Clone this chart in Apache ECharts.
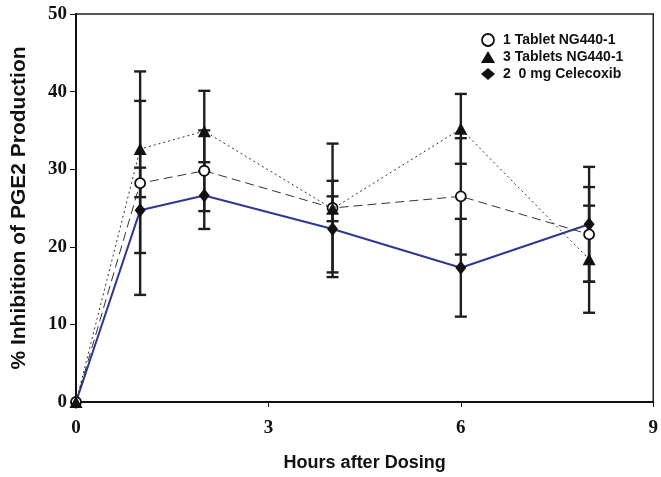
<!DOCTYPE html>
<html>
<head>
<meta charset="utf-8">
<script src="https://cdn.jsdelivr.net/npm/echarts@6/dist/echarts.min.js"></script>
<style>html,body{margin:0;padding:0;background:#fff}#c{width:661px;height:477px}</style>
</head>
<body>
<div id="c"></div>
<script>
var hours = [0, 1, 2, 4, 6, 8];
var seriesNames = ['1 Tablet NG440-1', '3 Tablets NG440-1', '2  0 mg Celecoxib'];
var oneTablet = [0, 28.2, 29.8, 25.0, 26.5, 21.6];
var oneTabletSD = [0, 14.4, 5.2, 8.3, 7.5, 6.1];
var threeTablets = [0, 32.6, 34.9, 24.9, 35.2, 18.4];
var threeTabletsSD = [0, 6.2, 5.2, 1.6, 4.5, 6.9];
var celecoxib = [0, 24.7, 26.6, 22.3, 17.3, 22.9];
var celecoxibSD = [0, 5.5, 4.3, 6.2, 6.3, 7.4];
var xTicks = [0, 3, 6, 9];
var yTicks = [0, 10, 20, 30, 40, 50];

function pairs(v) { return hours.map(function (h, i) { return [h, v[i]]; }); }
function errs(v, s) { return hours.map(function (h, i) { return [h, v[i], s[i]]; }); }

var chart = echarts.init(document.getElementById('c'));
var blue = '#2e3894';
var serif = '"Liberation Serif", "Times New Roman", serif';
var narrow = '"Liberation Sans Narrow", "Arial Narrow", "Liberation Sans", sans-serif';

function errRender(params, api) {
  var x = api.value(0), m = api.value(1), s = api.value(2);
  if (!s) return;
  var top = api.coord([x, m + s]);
  var bot = api.coord([x, m - s]);
  var st = { stroke: '#1f1f1f', lineWidth: 2.4 };
  var w = 6;
  return {
    type: 'group',
    children: [
      { type: 'line', shape: { x1: top[0], y1: top[1], x2: bot[0], y2: bot[1] }, style: st },
      { type: 'line', shape: { x1: top[0] - w, y1: top[1], x2: top[0] + w, y2: top[1] }, style: st },
      { type: 'line', shape: { x1: bot[0] - w, y1: bot[1], x2: bot[0] + w, y2: bot[1] }, style: st }
    ]
  };
}

chart.setOption({
  animation: false,
  grid: { left: 76, right: 2, top: 14, bottom: 68, show: true, borderColor: '#222', borderWidth: 1.5, backgroundColor: 'transparent' },
  legend: {
    orient: 'vertical', left: 476, top: 28, itemGap: 3, itemWidth: 14, itemHeight: 12,
    textStyle: { fontFamily: '"Liberation Sans", Arial, sans-serif', fontWeight: 'bold', fontSize: 14, color: '#111', padding: [0, 0, 0, 3] },
    data: [
      { name: seriesNames[0], icon: 'circle', itemStyle: { color: '#fff', borderColor: '#111', borderWidth: 1.8 } },
      { name: seriesNames[1], icon: 'triangle', itemStyle: { color: '#111' } },
      { name: seriesNames[2], icon: 'diamond', itemStyle: { color: '#111' } }
    ]
  },
  xAxis: {
    type: 'value', min: 0, max: 9, interval: 3,
    name: 'Hours after Dosing', nameLocation: 'middle', nameGap: 52,
    nameTextStyle: { fontFamily: narrow, fontWeight: 'bold', fontSize: 18, color: '#111' },
    axisLine: { show: true, lineStyle: { color: '#111', width: 2 } },
    axisTick: { show: true, length: 5, lineStyle: { color: '#111', width: 1 } },
    axisLabel: { fontFamily: serif, fontWeight: 'bold', fontSize: 19, color: '#111', margin: 17,
      formatter: function (v) { return xTicks.indexOf(v) >= 0 ? String(v) : ''; } },
    splitLine: { show: false }
  },
  yAxis: {
    type: 'value', min: 0, max: 50, interval: 10,
    name: '% Inhibition of PGE2 Production', nameLocation: 'middle', nameGap: 46,
    nameTextStyle: { fontFamily: narrow, fontWeight: 'bold', fontSize: 21, color: '#111' },
    axisLine: { show: true, lineStyle: { color: '#111', width: 2 } },
    axisTick: { show: true, length: 6, lineStyle: { color: '#111', width: 1 } },
    axisLabel: { fontFamily: serif, fontWeight: 'bold', fontSize: 19, color: '#111', margin: 9,
      formatter: function (v) { return yTicks.indexOf(v) >= 0 ? String(v) : ''; } },
    splitLine: { show: false }
  },
  series: [
    { type: 'custom', name: 'err1', renderItem: errRender, data: errs(oneTablet, oneTabletSD), z: 3, encode: { x: 0, y: 1 } },
    { type: 'custom', name: 'err3', renderItem: errRender, data: errs(threeTablets, threeTabletsSD), z: 3, encode: { x: 0, y: 1 } },
    { type: 'custom', name: 'errC', renderItem: errRender, data: errs(celecoxib, celecoxibSD), z: 3, encode: { x: 0, y: 1 } },
    { type: 'line', name: seriesNames[2], data: pairs(celecoxib), z: 4,
      lineStyle: { color: blue, width: 2 }, symbol: 'diamond', symbolSize: [11, 14],
      itemStyle: { color: '#111' } },
    { type: 'line', name: seriesNames[0], data: pairs(oneTablet), z: 5,
      lineStyle: { color: '#333', width: 1, type: [9, 5] }, symbol: 'circle', symbolSize: 10,
      itemStyle: { color: '#fff', borderColor: '#111', borderWidth: 1.8 } },
    { type: 'line', name: seriesNames[1], data: pairs(threeTablets), z: 6,
      lineStyle: { color: '#333', width: 1, type: [2, 3] }, symbol: 'triangle', symbolSize: [13, 12],
      itemStyle: { color: '#111' } }
  ]
});
</script>
</body>
</html>
